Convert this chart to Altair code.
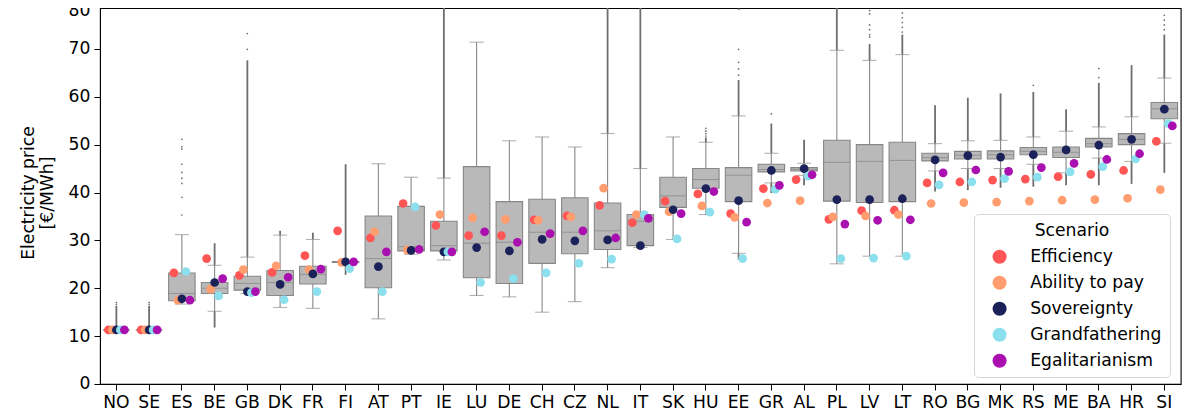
import altair as alt
import pandas as pd

countries = ["NO","SE","ES","BE","GB","DK","FR","FI","AT","PT","IE","LU","DE","CH","CZ","NL","IT","SK","HU","EE","GR","AL","PL","LV","LT","RO","BG","MK","RS","ME","BA","HR","SI"]
scenarios = ["Efficiency","Ability to pay","Sovereignty","Grandfathering","Egalitarianism"]
colors = ["#FF5555","#FF9D6E","#1B2259","#8CE0EE","#AA0FAF"]

q1 = [11.3,11.3,17.4,18.9,19.6,18.5,20.9,25.4,20.1,27.8,27.8,22.2,21.0,25.2,27.2,28.1,28.9,36.9,40.9,38.1,44.3,44.5,38.2,37.9,38.1,46.6,47.0,47.0,47.9,47.3,49.5,50.0,55.4]
med = [11.3,11.3,18.9,20.0,21.0,21.2,22.9,25.5,26.2,28.7,28.9,29.4,29.6,31.7,31.7,32.0,34.0,39.3,42.7,43.6,44.8,44.8,46.3,46.5,46.7,47.3,47.8,47.9,48.6,48.4,50.2,51.1,57.5]
q3 = [11.3,11.3,23.2,21.2,22.5,23.7,24.6,25.6,35.1,37.1,34.0,45.4,38.1,38.6,38.9,37.8,35.4,43.2,45.0,45.2,45.9,45.2,50.9,50.0,50.5,48.2,48.6,48.7,49.4,49.5,51.3,52.3,58.8]
wlo = [11.3,11.3,16.7,15.2,18.9,16.0,15.8,25.3,13.6,27.1,25.9,18.5,18.2,15.0,17.2,24.3,28.5,30.2,35.4,27.3,42.0,43.6,25.1,26.7,26.7,44.5,45.0,45.0,45.9,44.1,47.2,46.5,50.3]
whi = [11.3,11.3,31.2,24.8,26.5,31.1,30.2,25.7,46.0,43.2,43.0,71.4,50.8,51.6,49.5,52.3,45.0,51.6,50.5,56.0,48.2,46.1,69.7,67.6,68.8,50.2,50.8,50.9,51.6,52.8,53.7,55.8,63.9]

# dense flier runs per country: bottom and top of the run
run_up_lo = [11.3,11.3,None,24.8,26.5,31.1,30.2,25.7,None,None,43.0,None,None,None,None,52.3,45.0,None,50.5,56.0,48.2,46.1,69.7,67.6,68.8,50.2,50.8,50.9,51.6,52.8,53.7,55.8,63.9]
run_up_hi = [16.3,16.3,None,29.4,67.6,32.0,31.6,45.9,None,None,80.0,None,None,None,None,80.0,80.0,None,51.5,63.5,54.4,51.0,80.0,71.0,73.0,58.2,59.8,60.7,61.0,57.4,62.9,66.6,73.0]
run_dn_lo = [None,None,None,11.8,None,None,None,22.8,None,None,None,None,None,None,None,None,None,None,None,25.9,39.9,41.5,None,None,None,40.2,40.5,41.0,41.2,41.5,41.5,41.8,44.1]
run_dn_hi = [None,None,None,15.2,None,None,None,25.3,None,None,None,None,None,None,None,None,None,None,None,27.3,42.0,43.6,None,None,None,44.5,45.0,45.0,45.9,44.1,47.2,46.5,50.3]

# isolated fliers
sparse = {
    "NO":[16.6,17.0], "SE":[16.6,17.0],
    "ES":[35.3,39.0,41.9,43.0,44.2,45.9,49.1,49.6,51.1],
    "GB":[69.9,73.2], "HU":[51.8,52.3,52.8,53.4],
    "EE":[64.5,65.8,67.2,69.9,78.3], "GR":[56.4],
    "LV":[72.5,73.0,74.0,75.0,77.3,78.0,79.6],
    "LT":[73.5,74.5,75.5,76.5,77.5,78.8],
    "RS":[62.4], "BA":[64.0,65.9],
    "SI":[74.0,75.0,76.0,77.0,79.1],
}

efficiency = [11.3,11.3,23.2,26.2,22.7,23.3,26.8,32.0,30.5,37.7,33.1,31.0,31.0,34.3,35.1,37.3,33.7,38.2,39.7,35.6,40.8,42.7,34.4,36.2,36.3,42.0,42.2,42.6,42.8,43.3,43.8,44.6,50.7]
ability = [11.3,11.3,17.5,19.8,23.9,24.7,23.9,25.4,31.8,28.0,35.4,34.7,34.4,34.2,34.9,40.9,35.4,36.0,37.2,34.8,37.8,38.3,34.9,35.1,35.4,37.7,37.9,38.0,38.2,38.4,38.5,38.8,40.6]
sovereignty = [11.3,11.3,17.8,21.2,19.3,20.8,23.0,25.5,24.5,27.9,27.6,28.5,27.8,30.2,29.9,30.1,28.9,36.4,40.8,38.3,44.6,45.0,38.5,38.5,38.7,46.8,47.7,47.4,47.9,48.9,49.9,51.1,57.4]
grandfathering = [11.3,11.3,23.5,18.4,19.1,17.6,19.3,24.1,19.3,37.0,27.6,21.2,22.0,23.2,25.2,26.1,35.4,30.3,35.9,26.2,40.7,43.4,26.2,26.3,26.7,41.6,42.2,42.9,43.2,44.3,45.4,47.0,54.4]
egalitarianism = [11.3,11.3,17.5,22.0,19.3,22.3,24.0,25.5,27.6,28.1,27.6,31.8,29.6,31.4,32.0,30.5,34.6,35.6,40.2,33.8,41.5,43.7,33.4,34.2,34.3,44.1,44.7,44.4,45.2,46.1,46.9,48.1,53.9]

box_df = pd.DataFrame(dict(c=countries,q1=q1,med=med,q3=q3,wlo=wlo,whi=whi))
runs = []
for c,a,b in zip(countries,run_up_lo,run_up_hi):
    if a is not None: runs.append(dict(c=c,a=a,b=b))
for c,a,b in zip(countries,run_dn_lo,run_dn_hi):
    if a is not None: runs.append(dict(c=c,a=a,b=b))
run_df = pd.DataFrame(runs)
sp_df = pd.DataFrame([dict(c=c,v=v) for c,vs in sparse.items() for v in vs])
pts = []
for s,vals in zip(scenarios,[efficiency,ability,sovereignty,grandfathering,egalitarianism]):
    for c,v in zip(countries,vals):
        pts.append(dict(c=c,Scenario=s,v=v))
pt_df = pd.DataFrame(pts)

FONT = "DejaVu Sans"
FS = 17.2
x = alt.X("c:N", sort=countries, title=None,
          scale=alt.Scale(paddingInner=0, paddingOuter=0),
          axis=alt.Axis(labelAngle=0, labelFontSize=FS, labelFont=FONT, labelColor="#000",
                        tickColor="#000", tickSize=6, tickWidth=1, domainColor="#000", labelPadding=4))
ys = alt.Scale(domain=[0,80], range=[376,-7], nice=False, zero=False)
yaxis = alt.Axis(values=list(range(0,90,10)), grid=False, labelFontSize=FS, labelFont=FONT, labelColor="#000",
                 tickColor="#000", tickSize=6, tickWidth=1, domainColor="#000", labelPadding=4,
                 labelBaseline=alt.expr("datum.value == 80 ? 'top' : 'middle'"),
                 titleFontSize=FS, titleFont=FONT,
                 titleFontWeight="normal", titleColor="#000", titlePadding=12, titleLineHeight=19)
TITLE = ["Electricity price","[€/MWh]"]
def Y(field):
    return alt.Y(field, scale=ys, axis=yaxis, title=TITLE)

GREY = "#878787"
run = alt.Chart(run_df).mark_rule(color="#6e6e6e", strokeWidth=1.8).encode(x=x, y=Y("a:Q"), y2="b:Q")
dots = alt.Chart(sp_df).mark_circle(color="#6e6e6e", size=3, opacity=1).encode(x=x, y=Y("v:Q"))
whisk = alt.Chart(box_df).mark_rule(color=GREY, strokeWidth=1.1).encode(x=x, y=Y("wlo:Q"), y2="whi:Q")
cap_l = alt.Chart(box_df).mark_tick(color=GREY, size=14, thickness=1).encode(x=x, y=Y("wlo:Q"))
cap_h = alt.Chart(box_df).mark_tick(color=GREY, size=14, thickness=1).encode(x=x, y=Y("whi:Q"))
box = alt.Chart(box_df).mark_bar(size=26.5, color="#b9b9b9", stroke=GREY, strokeWidth=1.1).encode(x=x, y=Y("q1:Q"), y2="q3:Q")
median = alt.Chart(box_df).mark_tick(color=GREY, size=26.5, thickness=1.1).encode(x=x, y=Y("med:Q"))
points = alt.Chart(pt_df).mark_circle(size=76, opacity=1).encode(
    x=x,
    xOffset=alt.XOffset("Scenario:N", sort=scenarios,
                        scale=alt.Scale(type="point", domain=scenarios, range=[6.4,26.4])),
    y=Y("v:Q"),
    color=alt.Color("Scenario:N", sort=scenarios, scale=alt.Scale(domain=scenarios, range=colors),
                    legend=alt.Legend(orient="none", legendX=874, legendY=206, title="Scenario",
                                      titleFontSize=FS, titleFont=FONT, titleFontWeight="normal",
                                      titleColor="#000", titleAnchor="middle", titlePadding=9,
                                      labelFontSize=FS, labelFont=FONT, labelColor="#000",
                                      symbolType="circle", symbolSize=200, symbolOpacity=1,
                                      symbolStrokeWidth=0, rowPadding=8, labelOffset=22,
                                      symbolOffset=9,
                                      fillColor="#ffffff", strokeColor="#d5d5d5", cornerRadius=4,
                                      padding=8)),
)

chart = alt.layer(run, dots, whisk, cap_l, cap_h, box, median, points).properties(
    width=1080.7, height=376,
    autosize=alt.AutoSizeParams(type="none"),
    padding={"left":92,"right":7,"top":0,"bottom":30},
).configure_view(stroke="#000", strokeWidth=1.1)

chart.save("out.html", embed_options={"renderer": "svg", "actions": False})
